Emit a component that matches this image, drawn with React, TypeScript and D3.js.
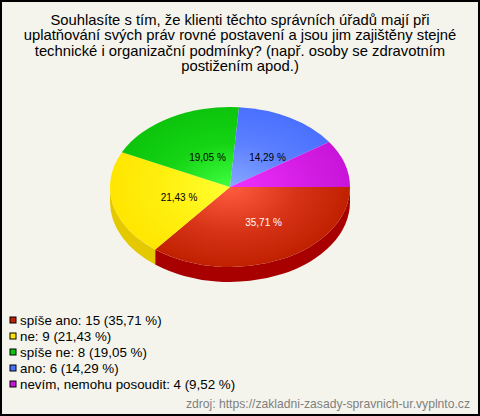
import React from "react";
import * as d3 from "d3";

const categories = ["spíše ano", "ne", "spíše ne", "ano", "nevím, nemohu posoudit"];
const counts = [15, 9, 8, 6, 4];
const percents = ["35,71", "21,43", "19,05", "14,29", "9,52"];
const edgeColors = ["#c02000", "#ffe600", "#0cc40c", "#4a70ff", "#c814d8"];
const midColors = ["#d83418", "#fff010", "#14d414", "#5c80ff", "#d820e8"];
const innerColors = ["#ff5c40", "#ffff30", "#40ff40", "#88a8ff", "#f030ff"];
const sideColors = ["#a80000", "#e4c800", "#0a9a0a", "#3050c0", "#9000a0"];
const labelColors = ["#ffffff", "#000000", "#000000", "#000000", "#000000"];
const titleLines = [
  "Souhlasíte s tím, že klienti těchto správních úřadů mají při",
  "uplatňování svých práv rovné postavení a jsou jim zajištěny stejné",
  "technické i organizační podmínky? (např. osoby se zdravotním",
  "postižením apod.)",
];
const sourceText = "zdroj: https://zakladni-zasady-spravnich-ur.vyplnto.cz";

const W = 480, H = 416, cx = 230, cy = 187, rx = 120, ry = 80, depth = 15;
const font = "'Liberation Sans', Arial, sans-serif";

export default function App() {
  const pie = d3.pie<number>().sort(null).startAngle(Math.PI / 2).endAngle(Math.PI / 2 + 2 * Math.PI);
  const arcs = pie(counts);
  const arc = d3.arc<d3.PieArcDatum<number>>().innerRadius(0).outerRadius(1);
  const toScreen = (a: number) => a - Math.PI / 2;
  const side = (a0: number, a1: number) => {
    const s0 = Math.max(0, toScreen(a0)), s1 = Math.min(Math.PI, toScreen(a1));
    if (s1 <= s0) return null;
    const x0 = rx * Math.cos(s0), y0 = ry * Math.sin(s0);
    const x1 = rx * Math.cos(s1), y1 = ry * Math.sin(s1);
    return `M${x0},${y0}A${rx},${ry} 0 0 1 ${x1},${y1}L${x1},${y1 + depth}A${rx},${ry} 0 0 0 ${x0},${y0 + depth}Z`;
  };
  return (
    <svg width={W} height={H} style={{ position: "fixed", left: 0, top: 0, display: "block" }} fontFamily={font}>
      <defs>
        {arcs.map((_, i) => (
          <radialGradient key={i} id={`g${i}`} gradientUnits="userSpaceOnUse" cx={0} cy={0} r={1}>
            <stop offset="0" stopColor={innerColors[i]} />
            <stop offset="0.55" stopColor={midColors[i]} />
            <stop offset="1" stopColor={edgeColors[i]} />
          </radialGradient>
        ))}
      </defs>
      <rect x={1} y={1} width={W - 2} height={H - 2} fill="#f5f4ec" stroke="#000" strokeWidth={2} />
      {titleLines.map((t, i) => (
        <text key={i} x={240} y={25 + i * 15.33} textAnchor="middle" fontSize={14.8} fill="#000">{t}</text>
      ))}
      <g transform={`translate(${cx},${cy})`}>
        {arcs.map((d, i) => {
          const p = side(d.startAngle, d.endAngle);
          return p ? <path key={i} d={p} fill={sideColors[i]} /> : null;
        })}
        <g transform={`scale(${rx},${ry})`}>
          {arcs.map((d, i) => <path key={i} d={arc(d) as string} fill={`url(#g${i})`} />)}
        </g>
        {arcs.map((d, i) => {
          if (i === 4) return null;
          const mid = toScreen((d.startAngle + d.endAngle) / 2);
          return (
            <text key={i} x={0.5 * rx * Math.cos(mid) + 7.5} y={0.46 * ry * Math.sin(mid) + 5.5}
              textAnchor="middle" fontSize={10} fill={labelColors[i]}>{percents[i]} %</text>
          );
        })}
      </g>
      {categories.map((c, i) => (
        <g key={i} transform={`translate(0,${325 + i * 16})`}>
          <rect x={10} y={-8} width={6} height={6} fill={edgeColors[i]} stroke="#000" strokeWidth={1} />
          <text x={20} y={0} fontSize={13.35} fill="#000">{`${c}: ${counts[i]} (${percents[i]} %)`}</text>
        </g>
      ))}
      <text x={470} y={408} textAnchor="end" fontSize={12.15} fill="#808080">{sourceText}</text>
    </svg>
  );
}
